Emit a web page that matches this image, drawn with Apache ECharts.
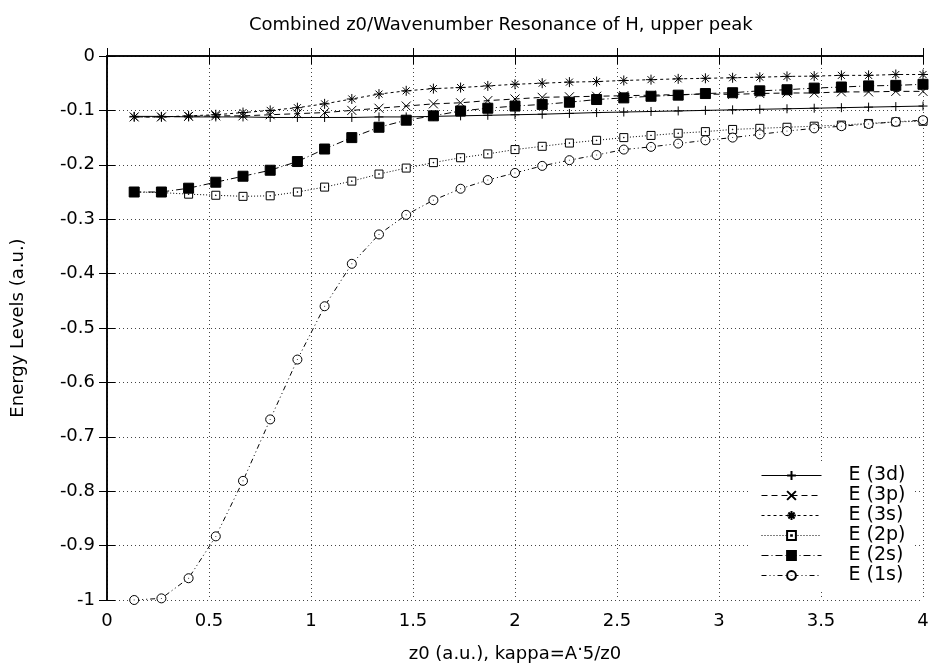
<!DOCTYPE html>
<html>
<head>
<meta charset="utf-8">
<script src="https://cdn.jsdelivr.net/npm/echarts@6/dist/echarts.min.js"></script>
<style>html,body{margin:0;padding:0;background:#fff}#c{width:933px;height:668px}</style>
</head>
<body>
<div id="c"></div>
<script>
const z0 = [0.1333,0.2667,0.4,0.5333,0.6667,0.8,0.9333,1.0667,1.2,1.3333,1.4667,1.6,1.7333,1.8667,2.0,2.1333,2.2667,2.4,2.5333,2.6667,2.8,2.9333,3.0667,3.2,3.3333,3.4667,3.6,3.7333,3.8667,4.0];
const e3d = [-0.111,-0.111,-0.112,-0.112,-0.112,-0.113,-0.113,-0.113,-0.113,-0.112,-0.112,-0.111,-0.110,-0.109,-0.108,-0.107,-0.1055,-0.104,-0.103,-0.102,-0.101,-0.100,-0.099,-0.098,-0.097,-0.096,-0.095,-0.094,-0.093,-0.092];
const e3p = [-0.112,-0.112,-0.111,-0.110,-0.110,-0.108,-0.106,-0.104,-0.100,-0.096,-0.092,-0.088,-0.086,-0.082,-0.079,-0.076,-0.075,-0.074,-0.073,-0.072,-0.071,-0.070,-0.0705,-0.069,-0.068,-0.068,-0.066,-0.066,-0.065,-0.065];
const e3s = [-0.112,-0.112,-0.110,-0.108,-0.104,-0.100,-0.095,-0.088,-0.079,-0.070,-0.064,-0.060,-0.058,-0.055,-0.052,-0.050,-0.048,-0.047,-0.045,-0.0435,-0.042,-0.041,-0.040,-0.039,-0.0375,-0.037,-0.0356,-0.0356,-0.034,-0.034];
const e2p = [-0.250,-0.251,-0.254,-0.256,-0.258,-0.257,-0.250,-0.241,-0.230,-0.217,-0.206,-0.196,-0.187,-0.180,-0.172,-0.166,-0.160,-0.155,-0.150,-0.146,-0.142,-0.139,-0.135,-0.133,-0.131,-0.129,-0.127,-0.124,-0.121,-0.120];
const e2s = [-0.250,-0.250,-0.243,-0.232,-0.221,-0.210,-0.194,-0.171,-0.150,-0.131,-0.118,-0.110,-0.101,-0.096,-0.092,-0.089,-0.085,-0.080,-0.077,-0.074,-0.072,-0.069,-0.0675,-0.064,-0.062,-0.059,-0.057,-0.055,-0.054,-0.052];
const e1s = [-1.0,-0.997,-0.960,-0.883,-0.781,-0.668,-0.558,-0.460,-0.382,-0.328,-0.292,-0.265,-0.244,-0.228,-0.215,-0.202,-0.1915,-0.182,-0.172,-0.167,-0.161,-0.155,-0.150,-0.144,-0.138,-0.133,-0.129,-0.125,-0.121,-0.118];
const names = ['E (3d)','E (3p)','E (3s)','E (2p)','E (2s)','E (1s)'];
const titleText = 'Combined z0/Wavenumber Resonance of H, upper peak';
const xNameParts = ['z0 (a.u.), kappa=A', '.', '5/z0'];
const yName = 'Energy Levels (a.u.)';

const FONT = 'DejaVu Sans';
function pairs(ys){ return z0.map((x,i)=>[x,ys[i]]); }

const PLUS = 'path://M0,5L10,5M5,0L5,10';
const CROSS = 'path://M0,0L10,10M10,0L0,10';
const STAR = 'path://M0,5L10,5M5,0L5,10M1.5,1.5L8.5,8.5M8.5,1.5L1.5,8.5';
const OSQ = 'path://M0,0L10,0L10,10L0,10Z M4.6,4.6L5.4,4.6L5.4,5.4L4.6,5.4Z';
const FSQ = 'path://M0,0L10,0L10,10L0,10Z';
const OCIR = 'path://M10,5A5,5,0,1,1,0,5A5,5,0,1,1,10,5Z M5,4.6L5,5.4';

function mk(name, ys, symbol, size, dash, fill){
  return {
    name, type:'line', data: pairs(ys), symbol, symbolSize: size,
    showAllSymbol:true, smooth:false, animation:false, xAxisIndex:0, yAxisIndex:0,
    lineStyle:{color:'#000', width:1, type: dash},
    itemStyle:{color: fill, borderColor:'#000', borderWidth:1},
    emphasis:{disabled:true}
  };
}

const chart = echarts.init(document.getElementById('c'), null, {renderer:'canvas'});
const axisCommon = {
  type:'value',
  axisLine:{show:true, lineStyle:{color:'#000', width:1.5}},
  axisTick:{show:true, inside:true, length:8, lineStyle:{color:'#000', width:1}},
};
chart.setOption({
  animation:false,
  backgroundColor:'#fff',
  textStyle:{fontFamily:FONT},
  title:{text:titleText, left:244, top:11, textStyle:{fontFamily:FONT, fontSize:18, fontWeight:'normal', color:'#000'}},
  grid:{left:107, right:10, top:56, bottom:68, containLabel:false},
  legend:{
    orient:'vertical', left:748, top:463, padding:[3,8,6,13],
    backgroundColor:'#fff', itemWidth:60, itemHeight:11, itemGap:1,
    data:names,
    lineStyle:{width:1},
    textStyle:{fontFamily:FONT, fontSize:19, color:'#000', lineHeight:19, padding:[0,0,0,22]},
    selectedMode:false
  },
  xAxis:[
    Object.assign({}, axisCommon, {position:'bottom', min:0, max:4, interval:0.5,
      name:'{n|' + xNameParts[0] + '}{s|' + xNameParts[1] + '}{n|' + xNameParts[2] + '}',
      nameLocation:'middle', nameGap:36,
      nameTextStyle:{fontFamily:FONT, fontSize:18, color:'#000',
        rich:{n:{fontFamily:FONT, fontSize:18, color:'#000'},
              s:{fontFamily:FONT, fontSize:18, color:'#000', padding:[0,0,18,0]}}},
      axisLabel:{fontFamily:FONT, fontSize:18, color:'#000', margin:12},
      splitLine:{show:true, lineStyle:{color:'#444', width:1, type:[1,3]}}}),
    Object.assign({}, axisCommon, {position:'top', min:0, max:4, interval:0.5,
      axisLabel:{show:false}, splitLine:{show:false}})
  ],
  yAxis:[
    Object.assign({}, axisCommon, {position:'left', min:-1, max:0, interval:0.1,
      name:yName, nameLocation:'middle', nameGap:80,
      nameTextStyle:{fontFamily:FONT, fontSize:18, color:'#000'},
      axisLabel:{fontFamily:FONT, fontSize:18, color:'#000', margin:12},
      splitLine:{show:true, lineStyle:{color:'#444', width:1, type:[1,3]}}}),
    Object.assign({}, axisCommon, {position:'right', min:-1, max:0, interval:0.1,
      axisLabel:{show:false}, splitLine:{show:false}})
  ],
  series:[
    mk(names[0], e3d, PLUS, 9, 'solid', '#000'),
    mk(names[1], e3p, CROSS, 9, [6,4], '#000'),
    mk(names[2], e3s, STAR, 10, [3,3], '#000'),
    mk(names[3], e2p, OSQ, 8, [1,2], '#fff'),
    mk(names[4], e2s, FSQ, 10, [7,3,1,3], '#000'),
    mk(names[5], e1s, OCIR, 9, [5,3,1,3,1,3], '#fff')
  ]
});
</script>
</body>
</html>
